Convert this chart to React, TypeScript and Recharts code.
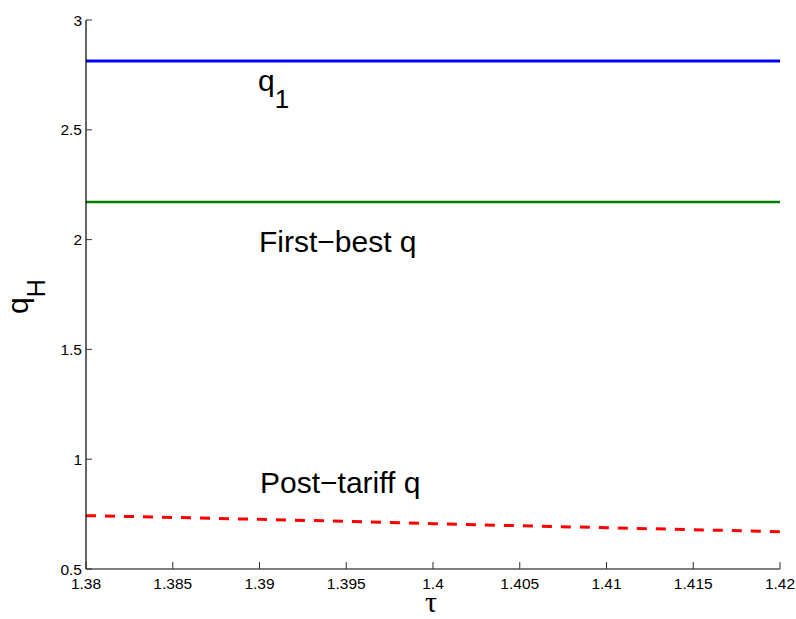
import { LineChart, Line, XAxis, YAxis } from "recharts"

const TAU = [1.38, 1.385, 1.39, 1.395, 1.4, 1.405, 1.41, 1.415, 1.42]
const Q1 = [2.813, 2.813, 2.813, 2.813, 2.813, 2.813, 2.813, 2.813, 2.813]
const FIRST_BEST = [2.171, 2.171, 2.171, 2.171, 2.171, 2.171, 2.171, 2.171, 2.171]
const POST_TARIFF = [0.743, 0.735, 0.726, 0.717, 0.706, 0.697, 0.688, 0.679, 0.670]

const X_TICKS = [1.38, 1.385, 1.39, 1.395, 1.4, 1.405, 1.41, 1.415, 1.42]
const Y_TICKS = [0.5, 1, 1.5, 2, 2.5, 3]

const FONT = "'Liberation Sans', Arial, Helvetica, sans-serif"
const TICK_COLOR = "#333"

const data = TAU.map((t, i) => ({
  tau: t,
  q1: Q1[i],
  firstBest: FIRST_BEST[i],
  postTariff: POST_TARIFF[i],
}))

interface TickProps {
  x?: number
  y?: number
  payload?: { value: number }
}

function LeftTick({ x = 0, y = 0, payload }: TickProps) {
  return (
    <g>
      <line x1={x} x2={x + 6} y1={y} y2={y} stroke={TICK_COLOR} />
      <text x={x - 4} y={y} dy={5.5} textAnchor="end" fontSize={15.5} fontFamily={FONT} fill="#000">
        {payload?.value}
      </text>
    </g>
  )
}

function RightTick({ x = 0, y = 0 }: TickProps) {
  return <line x1={x} x2={x - 6} y1={y} y2={y} stroke={TICK_COLOR} />
}

function BottomTick({ x = 0, y = 0, payload }: TickProps) {
  return (
    <g>
      <line x1={x} x2={x} y1={y} y2={y - 7} stroke={TICK_COLOR} />
      <text x={x} y={y} dy={19.5} textAnchor="middle" fontSize={15.5} fontFamily={FONT} fill="#000">
        {payload?.value}
      </text>
    </g>
  )
}

function TopTick({ x = 0, y = 0 }: TickProps) {
  return <line x1={x} x2={x} y1={y} y2={y + 7} stroke={TICK_COLOR} />
}

export default function App() {
  const axisLine = { stroke: "#000", strokeWidth: 1.2 }
  return (
    <div style={{ position: "absolute", left: 0, top: 0, width: 796, height: 619, background: "#fff" }}>
      <LineChart width={796} height={619} data={data} margin={{ top: 20, right: 16, bottom: 0, left: 0 }}>
        <XAxis
          xAxisId="bottom"
          dataKey="tau"
          type="number"
          domain={[1.38, 1.42]}
          ticks={X_TICKS}
          interval={0}
          height={50}
          tickSize={0}
          tickMargin={0}
          tickLine={false}
          axisLine={axisLine}
          tick={<BottomTick />}
        />
        <XAxis
          xAxisId="top"
          orientation="top"
          dataKey="tau"
          type="number"
          domain={[1.38, 1.42]}
          ticks={X_TICKS}
          interval={0}
          height={0}
          tickSize={0}
          tickMargin={0}
          tickLine={false}
          axisLine={axisLine}
          tick={<TopTick />}
        />
        <YAxis
          yAxisId="left"
          type="number"
          domain={[0.5, 3]}
          ticks={Y_TICKS}
          interval={0}
          width={86}
          tickSize={0}
          tickMargin={0}
          tickLine={false}
          axisLine={axisLine}
          tick={<LeftTick />}
        />
        <YAxis
          yAxisId="right"
          orientation="right"
          type="number"
          domain={[0.5, 3]}
          allowDataOverflow
          ticks={Y_TICKS}
          interval={0}
          width={0}
          tickSize={0}
          tickMargin={0}
          tickLine={false}
          axisLine={axisLine}
          tick={<RightTick />}
        />
        <Line
          xAxisId="bottom"
          yAxisId="left"
          dataKey="q1"
          type="linear"
          stroke="#0000ff"
          strokeWidth={3}
          dot={false}
          isAnimationActive={false}
        />
        <Line
          xAxisId="bottom"
          yAxisId="left"
          dataKey="firstBest"
          type="linear"
          stroke="#008000"
          strokeWidth={2.5}
          dot={false}
          isAnimationActive={false}
        />
        <Line
          xAxisId="bottom"
          yAxisId="left"
          dataKey="postTariff"
          type="linear"
          stroke="#ff0000"
          strokeWidth={3}
          strokeDasharray="10 9"
          dot={false}
          isAnimationActive={false}
        />
      </LineChart>

      {/* labels drawn over the plot */}
      <svg
        width={796}
        height={619}
        style={{ position: "absolute", left: 0, top: 0, pointerEvents: "none" }}
        fontFamily={FONT}
      >
        <text x={258} y={91} fontSize={30} fill="#000">
          q<tspan dy={17} fontSize={26}>1</tspan>
        </text>
        <text x={259} y={252} fontSize={30} fill="#000">First−best q</text>
        <text x={260} y={493} fontSize={30} fill="#000">Post−tariff q</text>
        <text x={431} y={612} fontSize={30} textAnchor="middle" fontFamily="'Liberation Serif', 'DejaVu Serif', serif" fill="#000">
          τ
        </text>
        <text transform="translate(28,314) rotate(-90)" fontSize={30} fill="#000">
          q<tspan dy={17} fontSize={25}>H</tspan>
        </text>
      </svg>
    </div>
  )
}
